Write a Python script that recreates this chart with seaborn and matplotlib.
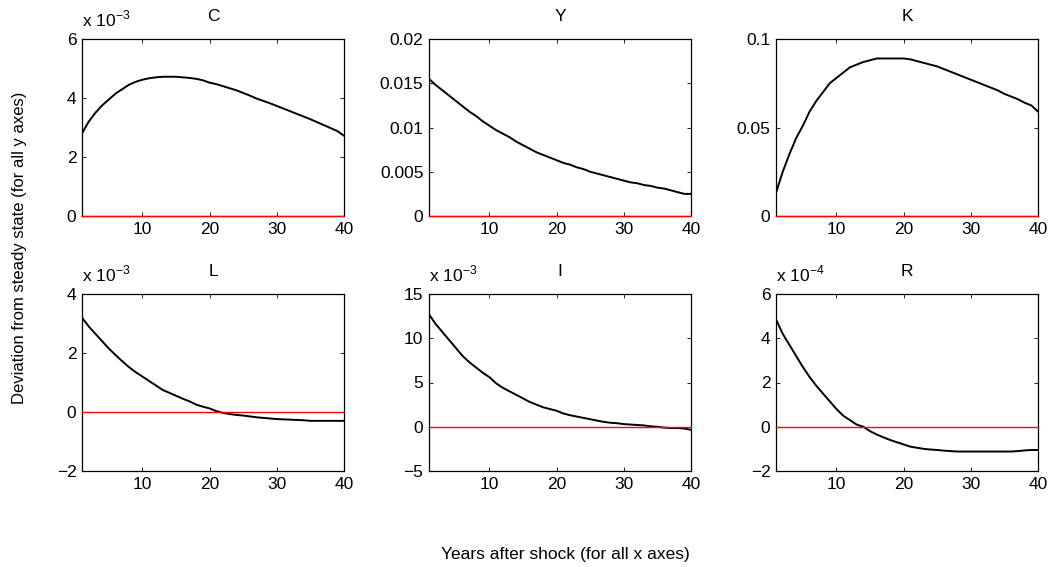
import numpy as np
import pandas as pd
import matplotlib
matplotlib.use("Agg")
import matplotlib.pyplot as plt
import seaborn as sns

# years after the shock
years = list(range(1, 41))

# impulse responses (C, L, I in 1e-3 units, R in 1e-4 units)
C = [2.8, 3.2, 3.5, 3.75, 3.95, 4.15, 4.3, 4.45, 4.55, 4.62,
     4.67, 4.7, 4.72, 4.72, 4.72, 4.7, 4.68, 4.65, 4.6, 4.52,
     4.47, 4.4, 4.33, 4.26, 4.17, 4.08, 3.98, 3.9, 3.82, 3.73,
     3.64, 3.55, 3.46, 3.37, 3.28, 3.18, 3.08, 2.98, 2.88, 2.72]
Y = [0.0155, 0.0148, 0.0142, 0.0136, 0.0130, 0.0124, 0.0118, 0.0113, 0.0107, 0.0102,
     0.0097, 0.0093, 0.0089, 0.0084, 0.0080, 0.0076, 0.0072, 0.0069, 0.0066, 0.0063,
     0.0060, 0.0058, 0.0055, 0.0053, 0.0050, 0.0048, 0.0046, 0.0044, 0.0042, 0.0040,
     0.0038, 0.0037, 0.0035, 0.0034, 0.0032, 0.0031, 0.0029, 0.0027, 0.0025, 0.0025]
K = [0.013, 0.025, 0.035, 0.044, 0.051, 0.059, 0.065, 0.070, 0.075, 0.078,
     0.081, 0.084, 0.0855, 0.087, 0.088, 0.089, 0.089, 0.089, 0.089, 0.089,
     0.0885, 0.0875, 0.0865, 0.0855, 0.0845, 0.083, 0.0815, 0.080, 0.0785, 0.077,
     0.0755, 0.074, 0.0725, 0.071, 0.069, 0.0675, 0.066, 0.064, 0.0625, 0.059]
L = [3.2, 2.9, 2.65, 2.4, 2.15, 1.93, 1.72, 1.52, 1.35, 1.2,
     1.05, 0.9, 0.75, 0.65, 0.55, 0.45, 0.36, 0.25, 0.18, 0.12,
     0.03, -0.03, -0.07, -0.1, -0.12, -0.15, -0.18, -0.2, -0.22, -0.24,
     -0.25, -0.26, -0.27, -0.28, -0.3, -0.3, -0.3, -0.3, -0.3, -0.3]
I = [12.7, 11.6, 10.7, 9.8, 8.9, 8.0, 7.3, 6.7, 6.1, 5.6,
     4.9, 4.4, 4.0, 3.6, 3.2, 2.8, 2.5, 2.2, 2.0, 1.8,
     1.5, 1.3, 1.15, 1.0, 0.85, 0.7, 0.55, 0.45, 0.4, 0.3,
     0.25, 0.2, 0.15, 0.05, 0.0, -0.1, -0.15, -0.15, -0.2, -0.35]
R = [4.85, 4.2, 3.7, 3.2, 2.7, 2.25, 1.85, 1.5, 1.15, 0.8,
     0.5, 0.3, 0.1, 0.0, -0.2, -0.35, -0.48, -0.6, -0.7, -0.8,
     -0.9, -0.95, -1.0, -1.03, -1.05, -1.08, -1.1, -1.12, -1.12, -1.12,
     -1.12, -1.12, -1.12, -1.12, -1.12, -1.12, -1.1, -1.07, -1.05, -1.05]

titles = ["C", "Y", "K", "L", "I", "R"]
series = [C, Y, K, L, I, R]
ylims = [(0, 6), (0, 0.02), (0, 0.1), (-2, 4), (-5, 15), (-2, 6)]
yticks = [[0, 2, 4, 6], [0, 0.005, 0.01, 0.015, 0.02], [0, 0.05, 0.1],
          [-2, 0, 2, 4], [-5, 0, 5, 10, 15], [-2, 0, 2, 4, 6]]
ytick_labels = [["0", "2", "4", "6"], ["0", "0.005", "0.01", "0.015", "0.02"],
                ["0", "0.05", "0.1"], ["\u22122", "0", "2", "4"],
                ["\u22125", "0", "5", "10", "15"], ["\u22122", "0", "2", "4", "6"]]
exponents = ["-3", None, None, "-3", "-3", "-4"]

sns.set_style("ticks")
plt.rcParams['font.family'] = ['Liberation Sans', 'DejaVu Sans']
plt.rcParams['mathtext.fontset'] = 'custom'
plt.rcParams['mathtext.rm'] = 'Liberation Sans'
# plain black text and ticks, like the original
for key in ['text.color', 'axes.labelcolor', 'xtick.color', 'ytick.color']:
    plt.rcParams[key] = 'black'

W, H = 1057, 567
fig = plt.figure(figsize=(W / 100, H / 100), dpi=100)

lefts = [82, 429, 776]
tops = [39, 294]
aw, ah = 262, 177

for i, (name, vals) in enumerate(zip(titles, series)):
    r, c = divmod(i, 3)
    ax = fig.add_axes([lefts[c] / W, 1 - (tops[r] + ah) / H, aw / W, ah / H])
    df = pd.DataFrame({"year": years, "value": vals})
    # zero line (steady state)
    ax.axhline(0, color="#ff0000", lw=1.0, zorder=3, clip_on=False)
    sns.lineplot(data=df, x="year", y="value", ax=ax, color="black", lw=1.4, zorder=2)
    ax.set_xlim(1, 40)
    ax.set_ylim(*ylims[i])
    ax.set_xticks([10, 20, 30, 40])
    ax.set_xticklabels(["10", "20", "30", "40"])
    ax.set_yticks(yticks[i])
    ax.set_yticklabels(ytick_labels[i])
    ax.set_xlabel("")
    ax.set_ylabel("")
    ax.tick_params(direction="in", top=True, right=True, labelsize=12.5,
                   length=3, width=0.6, pad=4)
    for s in ax.spines.values():
        s.set_linewidth(0.9)
        s.set_color("black")
    ax.set_title(name, fontsize=12.5, pad=13)
    if exponents[i]:
        ax.text(0.0, 1.055, r"x 10$^{\mathregular{%s}}$" % exponents[i].replace("-", "\u2212"),
                transform=ax.transAxes, ha="left", va="bottom", fontsize=12.5)

fig.text(20 / W, 1 - 248 / H, "Deviation from steady state (for all y axes)",
         rotation=90, ha="center", va="center", fontsize=12)
fig.text(565 / W, 1 - 555 / H, "Years after shock (for all x axes)",
         ha="center", va="center", fontsize=12.5)

fig.savefig("out.png", dpi=100)
